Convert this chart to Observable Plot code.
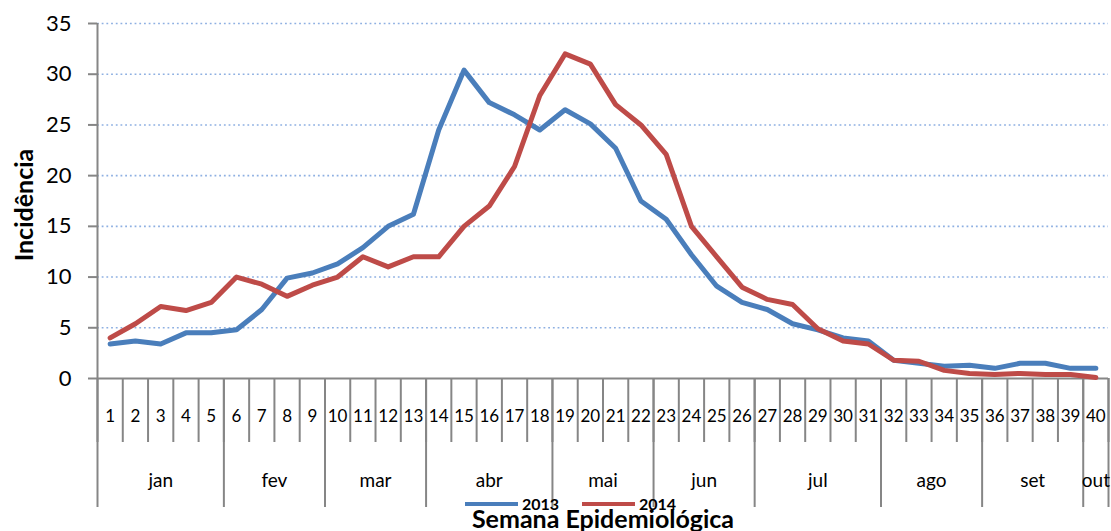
<!DOCTYPE html>
<html>
<head>
<meta charset="utf-8">
<script src="https://cdn.jsdelivr.net/npm/d3@7"></script>
<script src="https://cdn.jsdelivr.net/npm/@observablehq/plot@0.6"></script>
<style>
  html, body { margin: 0; padding: 0; background: #fff; }
  #wrap { position: relative; width: 1111px; height: 531px; overflow: hidden; font-family: Lato, "Open Sans", sans-serif; }
  #legend { position: absolute; top: 496px; left: 465px; height: 16px; display: flex; align-items: center; font-weight: bold; font-size: 16px; line-height: 16px; color: #000; }
  #legend .item { display: flex; align-items: center; }
  #legend .sw { display: inline-block; width: 53px; height: 4px; margin-right: 4px; }
  #legend .lab { width: 60px; }
</style>
</head>
<body>
<div id="wrap"></div>
<script>
// ---- data ----
const weeks = [1,2,3,4,5,6,7,8,9,10,11,12,13,14,15,16,17,18,19,20,21,22,23,24,25,26,27,28,29,30,31,32,33,34,35,36,37,38,39,40];
const inc2013 = [3.4,3.7,3.4,4.5,4.5,4.8,6.8,9.9,10.4,11.3,12.9,15.0,16.2,24.5,30.4,27.2,26.0,24.5,26.5,25.1,22.7,17.5,15.7,12.2,9.1,7.5,6.8,5.4,4.8,4.0,3.7,1.8,1.5,1.2,1.3,1.0,1.5,1.5,1.0,1.0];
const inc2014 = [4.0,5.4,7.1,6.7,7.5,10.0,9.3,8.1,9.2,10.0,12.0,11.0,12.0,12.0,15.0,17.0,20.9,27.9,32.0,31.0,27.0,25.0,22.1,15.0,12.0,9.0,7.8,7.3,4.9,3.7,3.4,1.8,1.7,0.8,0.5,0.4,0.5,0.4,0.4,0.1];
const months = ["jan","fev","mar","abr","mai","jun","jul","ago","set","out"];
const monthWeekCounts = [5,4,4,5,4,4,5,4,4,1];
const yTicks = [0,5,10,15,20,25,30,35];
const seriesNames = ["2013","2014"];
const seriesColors = ["#4A7EBB","#BE4B48"];
const yLabel = "Incidência";
const xLabel = "Semana Epidemiológica";

// ---- derived tables ----
const rows2013 = weeks.map((w, i) => ({week: w, value: inc2013[i]}));
const rows2014 = weeks.map((w, i) => ({week: w, value: inc2014[i]}));
const weekBounds = weeks.map(w => w - 0.5).concat([weeks[weeks.length - 1] + 0.5]);
const monthBounds = [weeks[0] - 0.5];
const monthMids = [];
{
  let start = weeks[0];
  monthWeekCounts.forEach(c => {
    const end = start + c - 1;
    monthMids.push((start + end) / 2);
    monthBounds.push(end + 0.5);
    start = end + 1;
  });
}
const monthRows = months.map((m, i) => ({name: m, mid: monthMids[i]}));

const axisGrey = "#868686";

const chart = Plot.plot({
  width: 1111,
  height: 531,
  marginTop: 23,
  marginLeft: 97,
  marginRight: 3,
  marginBottom: 153,
  style: {fontFamily: "Lato, 'Open Sans', sans-serif", background: "#fff", color: "#000", overflow: "visible"},
  x: {type: "linear", domain: [weekBounds[0], weekBounds[weekBounds.length - 1]], axis: null},
  y: {domain: [yTicks[0], yTicks[yTicks.length - 1]], axis: null},
  marks: [
    Plot.gridY(yTicks.slice(1), {stroke: "#8EB0E2", strokeOpacity: 1, strokeWidth: 1.6, strokeDasharray: "1.8,2.9"}),
    Plot.axisY({ticks: yTicks, tickSize: 9, tickPadding: 17, fontSize: 22, stroke: axisGrey, strokeWidth: 2, fill: "#000", label: null}),
    Plot.ruleX([weekBounds[0]], {stroke: axisGrey, strokeWidth: 2}),
    Plot.ruleY([0], {stroke: axisGrey, strokeWidth: 2}),
    Plot.axisX({ticks: weekBounds, tickSize: 64, tickFormat: () => "", stroke: axisGrey, strokeWidth: 2, label: null}),
    Plot.axisX({ticks: monthBounds, tickSize: 129, tickFormat: () => "", stroke: axisGrey, strokeWidth: 2, label: null}),
    Plot.text(weeks, {x: d => d, text: d => String(d), frameAnchor: "bottom", lineAnchor: "middle", textAnchor: "middle", dy: 38, fontSize: 17, fill: "#000"}),
    Plot.text(monthRows, {x: "mid", text: "name", frameAnchor: "bottom", lineAnchor: "middle", textAnchor: "middle", dy: 102, fontSize: 19, fill: "#000"}),
    Plot.text([xLabel], {frameAnchor: "bottom", lineAnchor: "middle", textAnchor: "middle", dy: 141, fontSize: 25, fontWeight: "bold", fill: "#000"}),
    Plot.text([yLabel], {frameAnchor: "left", lineAnchor: "middle", textAnchor: "middle", dx: -73, dy: 4, rotate: -90, fontSize: 25, fontWeight: "bold", fill: "#000"}),
    Plot.line(rows2013, {x: "week", y: "value", stroke: seriesColors[0], strokeWidth: 5, strokeLinejoin: "round", strokeLinecap: "round"}),
    Plot.line(rows2014, {x: "week", y: "value", stroke: seriesColors[1], strokeWidth: 5, strokeLinejoin: "round", strokeLinecap: "round"})
  ]
});

const wrap = document.getElementById("wrap");
wrap.appendChild(chart);

const legend = document.createElement("div");
legend.id = "legend";
seriesNames.forEach((name, i) => {
  const item = document.createElement("div");
  item.className = "item";
  const sw = document.createElement("span");
  sw.className = "sw";
  sw.style.background = seriesColors[i];
  const lab = document.createElement("span");
  lab.className = "lab";
  lab.textContent = name;
  item.appendChild(sw);
  item.appendChild(lab);
  legend.appendChild(item);
});
wrap.appendChild(legend);
</script>
</body>
</html>
